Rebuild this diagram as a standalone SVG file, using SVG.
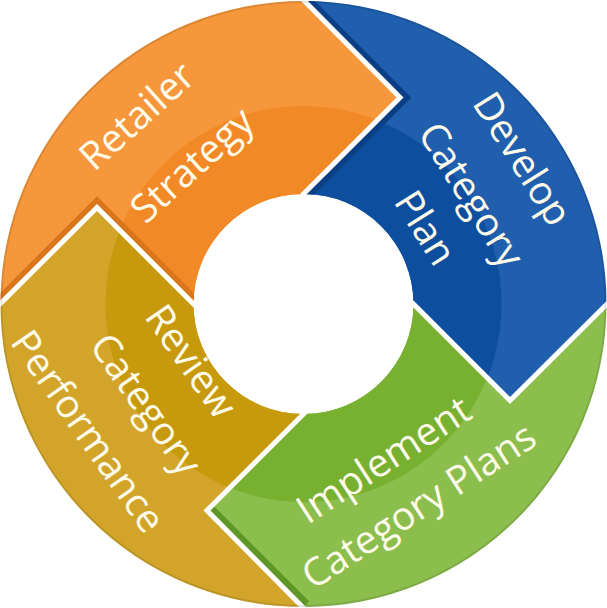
<svg xmlns="http://www.w3.org/2000/svg" width="607" height="608" viewBox="0 0 607 608">
<style>
.lbl{font-family:"Open Sans","Liberation Sans",sans-serif;font-size:39px;fill:#FFFBEA;text-anchor:middle}
.div{fill:none;stroke:#FFFFFF;stroke-width:5;stroke-linejoin:miter;stroke-linecap:square}
.strip{fill:none;stroke-width:16;stroke-linejoin:miter}
</style>
<defs>
<clipPath id="inner"><circle cx="303.5" cy="304" r="198"/></clipPath>
<clipPath id="clip-orange"><path d="M 0.5 304 A 303 303 0 0 1 303.5 1 L 400 97.5 L 303.5 194 A 110 110 0 0 0 193.5 304 L 97 207.5 Z"/></clipPath>
<clipPath id="clip-blue"><path d="M 303.5 1 A 303 303 0 0 1 606.5 304 L 510 400.5 L 413.5 304 A 110 110 0 0 0 303.5 194 L 400 97.5 Z"/></clipPath>
<clipPath id="clip-green"><path d="M 606.5 304 A 303 303 0 0 1 303.5 607 L 207 510.5 L 303.5 414 A 110 110 0 0 0 413.5 304 L 510 400.5 Z"/></clipPath>
</defs>
<rect width="607" height="608" fill="#FFFFFF"/>
<g id="retailer-strategy">
<path fill="#F6973B" d="M 0.5 304 A 303 303 0 0 1 303.5 1 L 400 97.5 L 303.5 194 A 110 110 0 0 0 193.5 304 L 97 207.5 Z"/>
<path fill="#F18A26" clip-path="url(#inner)" d="M 0.5 304 A 303 303 0 0 1 303.5 1 L 400 97.5 L 303.5 194 A 110 110 0 0 0 193.5 304 L 97 207.5 Z"/>
<polyline class="strip" stroke="#D9761C" clip-path="url(#clip-orange)" points="193.5,304 97,207.5 0.5,304"/>
<text class="lbl" transform="translate(146,126) rotate(-42)">Retailer</text>
<text class="lbl" transform="translate(201,175) rotate(-42)">Strategy</text>
</g>
<g id="develop-category-plan">
<path fill="#1F5FAD" d="M 303.5 1 A 303 303 0 0 1 606.5 304 L 510 400.5 L 413.5 304 A 110 110 0 0 0 303.5 194 L 400 97.5 Z"/>
<path fill="#0E4E9E" clip-path="url(#inner)" d="M 303.5 1 A 303 303 0 0 1 606.5 304 L 510 400.5 L 413.5 304 A 110 110 0 0 0 303.5 194 L 400 97.5 Z"/>
<polyline class="strip" stroke="#0B3F85" clip-path="url(#clip-blue)" points="303.5,1 400,97.5 303.5,194"/>
<text class="lbl" transform="translate(511,166) rotate(58)">Develop</text>
<text class="lbl" transform="translate(460,202) rotate(58)">Category</text>
<text class="lbl" transform="translate(414,235) rotate(58)">Plan</text>
</g>
<g id="implement-category-plans">
<path fill="#8BBE4C" d="M 606.5 304 A 303 303 0 0 1 303.5 607 L 207 510.5 L 303.5 414 A 110 110 0 0 0 413.5 304 L 510 400.5 Z"/>
<path fill="#78B030" clip-path="url(#inner)" d="M 606.5 304 A 303 303 0 0 1 303.5 607 L 207 510.5 L 303.5 414 A 110 110 0 0 0 413.5 304 L 510 400.5 Z"/>
<polyline class="strip" stroke="#5F9628" clip-path="url(#clip-green)" points="207,510.5 303.5,607"/>
<text class="lbl" transform="translate(391,471) rotate(-33)">Implement</text>
<text class="lbl" transform="translate(426,517) rotate(-33)">Category Plans</text>
</g>
<g id="review-category-performance">
<path fill="#D2A52A" d="M 303.5 607 A 303 303 0 0 1 0.5 304 L 97 207.5 L 193.5 304 A 110 110 0 0 0 303.5 414 L 207 510.5 Z"/>
<path fill="#C79A0E" clip-path="url(#inner)" d="M 303.5 607 A 303 303 0 0 1 0.5 304 L 97 207.5 L 193.5 304 A 110 110 0 0 0 303.5 414 L 207 510.5 Z"/>
<text class="lbl" transform="translate(180,369) rotate(55)">Review</text>
<text class="lbl" transform="translate(135,412) rotate(55)">Category</text>
<text class="lbl" transform="translate(77,439) rotate(55)">Performance</text>
</g>
<g id="dividers">
<polyline class="div" points="303.5,0 400,97.5 303.5,194"/>
<polyline class="div" points="607,304 510,400.5 413.5,304"/>
<polyline class="div" points="303.5,608 207,510.5 303.5,414"/>
<polyline class="div" points="0,304 97,207.5 193.5,304"/>
</g>
<circle cx="303.5" cy="304" r="302" fill="none" stroke="#000000" stroke-opacity="0.1" stroke-width="2"/>
</svg>
